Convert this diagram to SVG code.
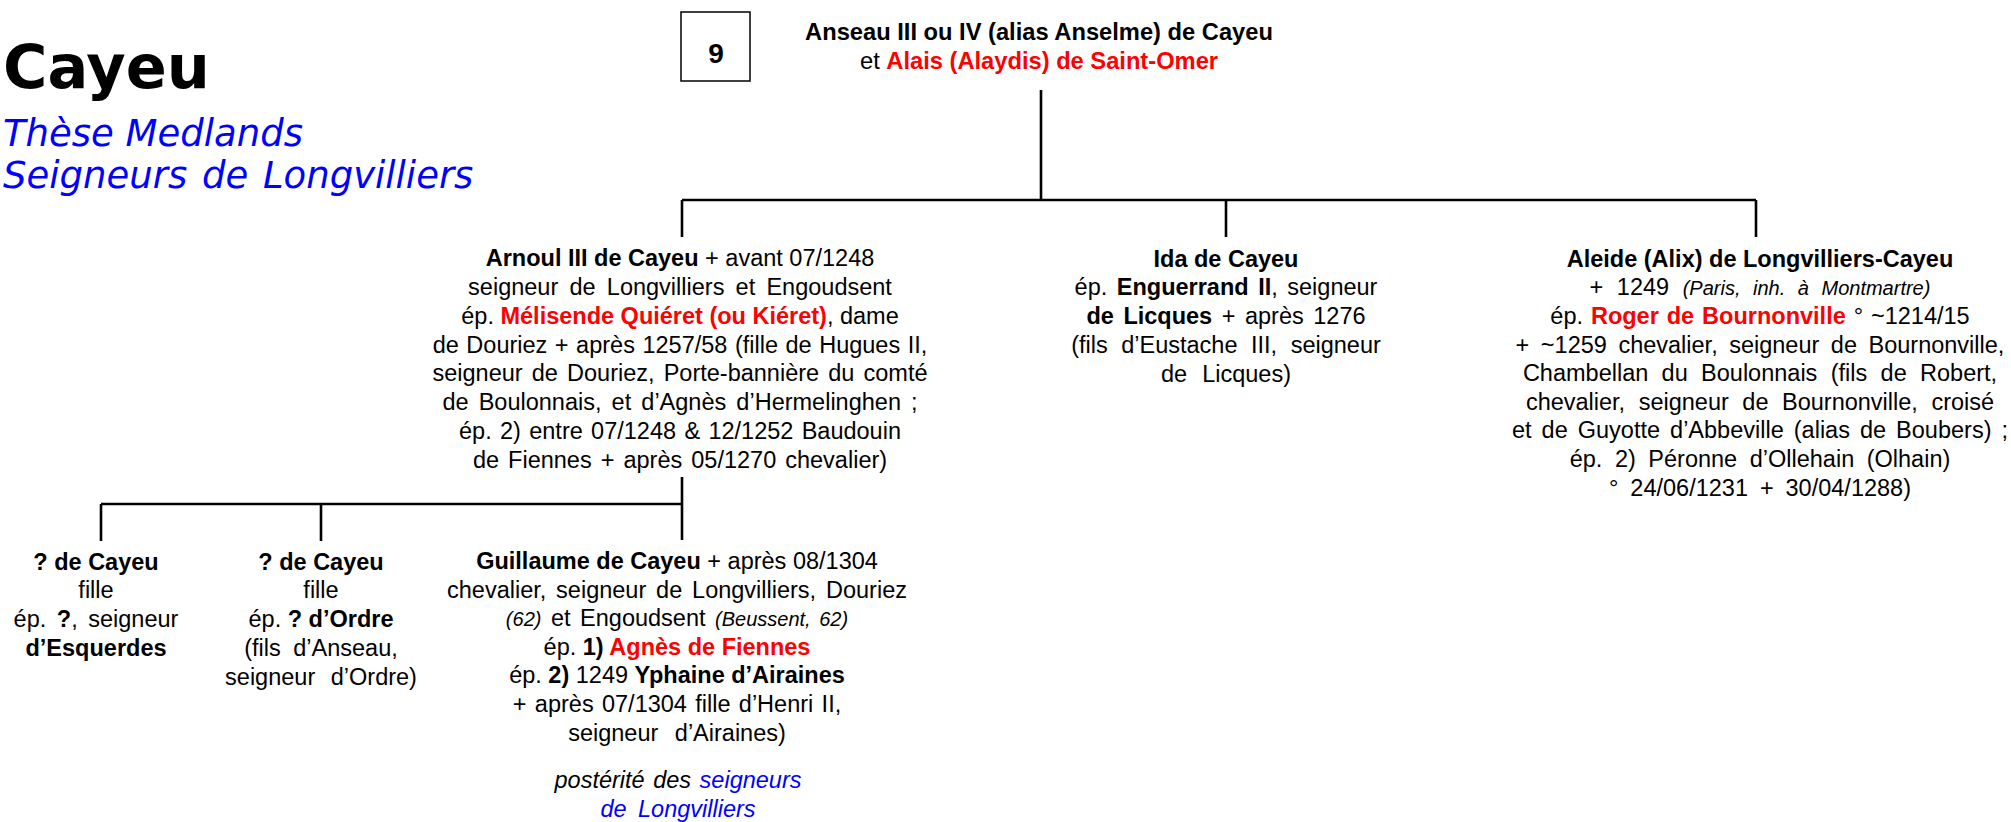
<svg xmlns="http://www.w3.org/2000/svg" width="2011" height="822" viewBox="0 0 2011 822">
<style>
.t{font-family:"Liberation Sans",Arial,Helvetica,sans-serif;font-size:23.5px;fill:#000;text-anchor:middle}
.h{font-size:23.7px}
.b{font-weight:bold}
.r{fill:#FF0000}
.bl{fill:#0000FF}
.i{font-style:italic}
.sm{font-size:20px}
.title{font-family:"DejaVu Sans",Verdana,sans-serif;font-weight:bold;font-size:60.5px;fill:#000}
.sub{font-family:"DejaVu Sans",Verdana,sans-serif;font-style:italic;font-size:37px;fill:#0000FF}
.ln{stroke:#000;stroke-width:2.6;fill:none}
</style>
<rect width="2011" height="822" fill="#fff"/>
<g id="title">
<text class="title" x="3" y="88">Cayeu</text>
<text class="sub" x="3" y="146">Thèse Medlands</text>
<text class="sub" x="3" y="188" word-spacing="3">Seigneurs de Longvilliers</text>
</g>
<g id="connectors">
<path class="ln" d="M1041 90V200M682 200H1756M682 200V237M1226 200V237M1756 200V237"/>
<path class="ln" d="M682 477V540M101 504H682M101 504V541M321 504V541"/>
</g>
<g id="gen-number">
<rect x="681" y="12" width="69" height="69" fill="#fff" stroke="#000" stroke-width="1.5"/>
<text class="t b" x="716" y="63" style="font-size:28px">9</text>
</g>
<g id="node-anseau">
<text class="t h b" x="1039" y="40">Anseau III ou IV (alias Anselme) de Cayeu</text>
<text class="t h" x="1039" y="69">et <tspan class="b r">Alais (Alaydis) de Saint-Omer</tspan></text>
</g>
<g id="node-arnoul">
<text class="t" x="680" y="266"><tspan class="b">Arnoul III de Cayeu</tspan> + avant 07/1248</text>
<text class="t" x="680" y="295" word-spacing="4.7">seigneur de Longvilliers et Engoudsent</text>
<text class="t" x="680" y="324">ép. <tspan class="b r">Mélisende Quiéret (ou Kiéret)</tspan>, dame</text>
<text class="t" x="680" y="353" word-spacing="1">de Douriez + après 1257/58 (fille de Hugues II,</text>
<text class="t" x="680" y="381" word-spacing="2.6">seigneur de Douriez, Porte-bannière du comté</text>
<text class="t" x="680" y="410" word-spacing="3.6">de Boulonnais, et d’Agnès d’Hermelinghen ;</text>
<text class="t" x="680" y="439" word-spacing="1.8">ép. 2) entre 07/1248 &amp; 12/1252 Baudouin</text>
<text class="t" x="680" y="468" word-spacing="2.5">de Fiennes + après 05/1270 chevalier)</text>
</g>
<g id="node-ida">
<text class="t b" x="1226" y="267">Ida de Cayeu</text>
<text class="t" x="1226" y="295" word-spacing="3">ép. <tspan class="b">Enguerrand II</tspan>, seigneur</text>
<text class="t" x="1226" y="324" word-spacing="3"><tspan class="b">de Licques</tspan> + après 1276</text>
<text class="t" x="1226" y="353" word-spacing="7">(fils d’Eustache III, seigneur</text>
<text class="t" x="1226" y="382" word-spacing="8.5">de Licques)</text>
</g>
<g id="node-aleide">
<text class="t b" x="1760" y="267">Aleide (Alix) de Longvilliers-Cayeu</text>
<text class="t" x="1760" y="295" word-spacing="7">+ 1249 <tspan class="i sm">(Paris, inh. à Montmartre)</tspan></text>
<text class="t" x="1760" y="324" word-spacing="1.4">ép. <tspan class="b r">Roger de Bournonville</tspan> ° ~1214/15</text>
<text class="t" x="1760" y="353" word-spacing="5">+ ~1259 chevalier, seigneur de Bournonville,</text>
<text class="t" x="1760" y="381" word-spacing="6.8">Chambellan du Boulonnais (fils de Robert,</text>
<text class="t" x="1760" y="410" word-spacing="7">chevalier, seigneur de Bournonville, croisé</text>
<text class="t" x="1760" y="438" word-spacing="3.5">et de Guyotte d’Abbeville (alias de Boubers) ;</text>
<text class="t" x="1760" y="467" word-spacing="6">ép. 2) Péronne d’Ollehain (Olhain)</text>
<text class="t" x="1760" y="496" word-spacing="5.4">° 24/06/1231 + 30/04/1288)</text>
</g>
<g id="node-child1">
<text class="t b" x="96" y="570">? de Cayeu</text>
<text class="t" x="96" y="598">fille</text>
<text class="t" x="96" y="627" word-spacing="4">ép. <tspan class="b">?</tspan>, seigneur</text>
<text class="t b" x="96" y="656">d’Esquerdes</text>
</g>
<g id="node-child2">
<text class="t b" x="321" y="570">? de Cayeu</text>
<text class="t" x="321" y="598">fille</text>
<text class="t" x="321" y="627">ép. <tspan class="b">? d’Ordre</tspan></text>
<text class="t" x="321" y="656" word-spacing="6">(fils d’Anseau,</text>
<text class="t" x="321" y="685" word-spacing="9">seigneur d’Ordre)</text>
</g>
<g id="node-guillaume">
<text class="t" x="677" y="569"><tspan class="b">Guillaume de Cayeu</tspan> + après 08/1304</text>
<text class="t" x="677" y="598" word-spacing="3.3">chevalier, seigneur de Longvilliers, Douriez</text>
<text class="t" x="677" y="626" word-spacing="3"><tspan class="i sm">(62)</tspan> et Engoudsent <tspan class="i sm">(Beussent, 62)</tspan></text>
<text class="t" x="677" y="655">ép. <tspan class="b">1) </tspan><tspan class="b r">Agnès de Fiennes</tspan></text>
<text class="t" x="677" y="683">ép. <tspan class="b">2)</tspan> 1249 <tspan class="b">Yphaine d’Airaines</tspan></text>
<text class="t" x="677" y="712" word-spacing="1.8">+ après 07/1304 fille d’Henri II,</text>
<text class="t" x="677" y="741" word-spacing="10">seigneur d’Airaines)</text>
<text class="t i" x="678" y="788" word-spacing="2">postérité des <tspan class="bl">seigneurs</tspan></text>
<text class="t i bl" x="678" y="817" word-spacing="5">de Longvilliers</text>
</g>
</svg>
